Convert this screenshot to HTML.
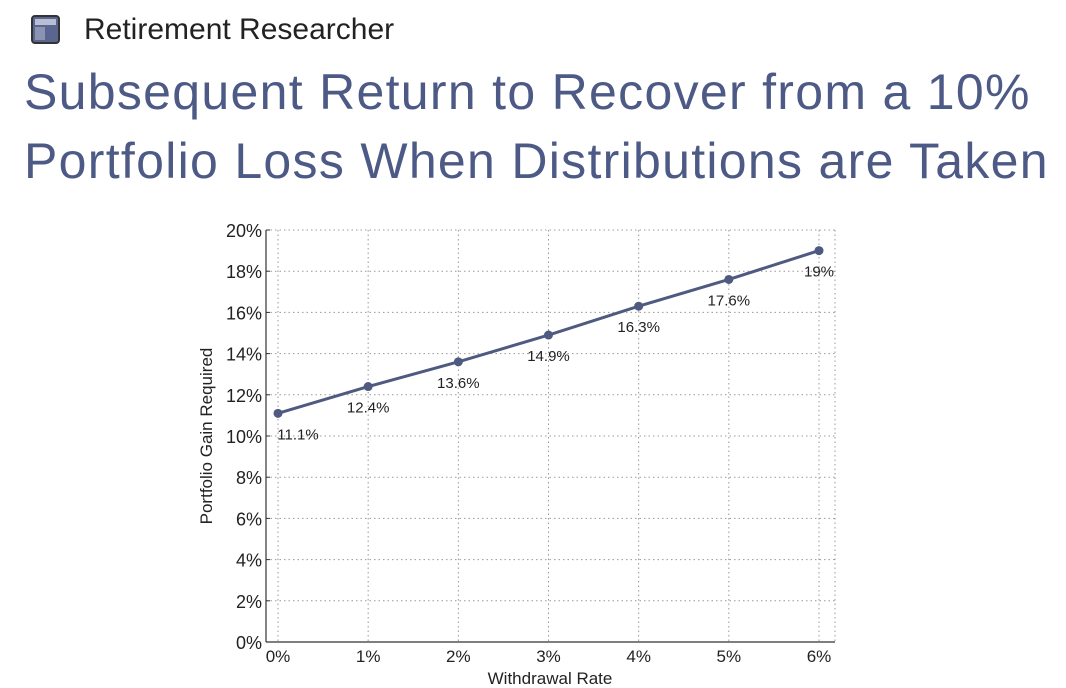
<!DOCTYPE html>
<html><head><meta charset="utf-8"><style>
body{margin:0;width:1066px;height:688px;background:#fff;font-family:"Liberation Sans",sans-serif;overflow:hidden;position:relative}
#hdr{position:absolute;left:84px;top:13px;font-size:30px;color:#222}
#icon{position:absolute;left:31px;top:15px;width:29px;height:29px;border:2px solid #333;border-radius:4px;box-sizing:border-box;background:#5a6690}
#title{position:absolute;left:24px;top:58px;font-size:50px;line-height:69px;letter-spacing:1.3px;color:#4d5a86;white-space:nowrap}
</style></head><body>
<div id="icon"><div style="position:absolute;left:2px;top:2px;right:2px;height:6px;background:#b8bfd4"></div><div style="position:absolute;left:2px;top:10px;width:10px;bottom:2px;background:#8b93b2"></div></div>
<div id="hdr">Retirement Researcher</div>
<div id="title">Subsequent Return to Recover from a 10%<br>Portfolio Loss When Distributions are Taken</div>
<svg id="chart" width="1066" height="688" style="position:absolute;left:0;top:0"></svg>
<script>
const categories=["0%","1%","2%","3%","4%","5%","6%"];
const xValues=[0,1,2,3,4,5,6];
const gainValues=[11.1,12.4,13.6,14.9,16.3,17.6,19.0];
const pointLabels=["11.1%","12.4%","13.6%","14.9%","16.3%","17.6%","19%"];
const yTicks=[0,2,4,6,8,10,12,14,16,18,20];
const L=266,R=835,T=230,B=642;
const xs=v=>278+v*(819-278)/6;
const ys=v=>B-v*(B-T)/20;
const svg=document.getElementById('chart');
const NS='http://www.w3.org/2000/svg';
function mk(t,a,p){const e=document.createElementNS(NS,t);for(const k in a)e.setAttribute(k,a[k]);(p||svg).appendChild(e);return e;}
yTicks.forEach(t=>{
 if(t>0){const g=mk('line',{x1:L,x2:R,y1:ys(t),y2:ys(t),stroke:'#999','stroke-dasharray':'1.5,3'});
 
 }
 const tx=mk('text',{x:L-4,y:ys(t)+7,'text-anchor':'end','font-size':18,fill:'#222'});tx.textContent=t+'%';
 
 
 mk('line',{x1:L,x2:L+4,y1:ys(t),y2:ys(t),stroke:'#333'});
});
xValues.forEach((v,i)=>{
 const g=mk('line',{x1:xs(v),x2:xs(v),y1:T,y2:B,stroke:'#999','stroke-dasharray':'1.5,3'});
 
 
 const tx=mk('text',{x:xs(v),y:B+20,'text-anchor':'middle','font-size':17,fill:'#222'});tx.textContent=categories[i];
 
 
});
mk('line',{x1:R,x2:R,y1:T,y2:B,stroke:'#999','stroke-dasharray':'1.5,3'});
mk('line',{x1:L,x2:L,y1:T,y2:B,stroke:'#333','stroke-width':1.2});
mk('line',{x1:L,x2:R,y1:B,y2:B,stroke:'#333','stroke-width':1.2});
const line=mk('polyline',{points:xValues.map((v,i)=>xs(v)+','+ys(gainValues[i])).join(' '),fill:'none',stroke:'#4f5a80','stroke-width':3});


xValues.forEach((v,i)=>{
 const c=mk('circle',{cx:xs(v),cy:ys(gainValues[i]),r:4.5,fill:'#4f5a80'});
 
 
 const dx=i==0?20:0;
 const tx=mk('text',{x:xs(v)+dx,y:ys(gainValues[i])+26,'text-anchor':'middle','font-size':15,fill:'#222'});tx.textContent=pointLabels[i];
 
 
});
const xt=mk('text',{x:550,y:684,'text-anchor':'middle','font-size':17,fill:'#222'});xt.textContent='Withdrawal Rate';


const yt=mk('text',{x:0,y:0,'text-anchor':'middle','font-size':17,fill:'#222',transform:'translate(212,436) rotate(-90)'});yt.textContent='Portfolio Gain Required';


</script>
</body></html>
